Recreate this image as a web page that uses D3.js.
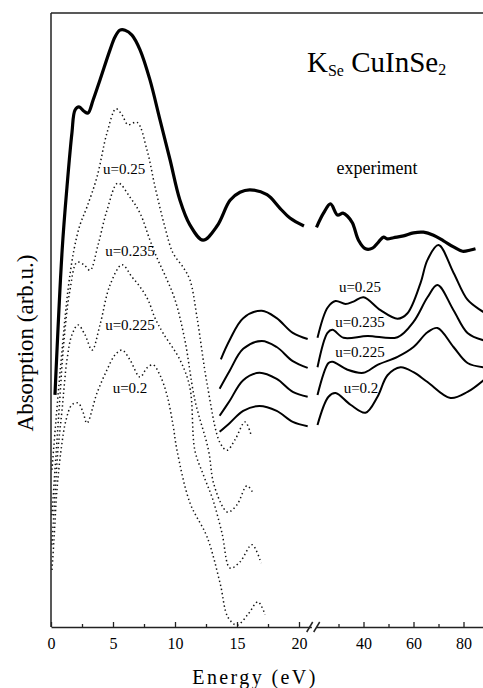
<!DOCTYPE html>
<html>
<head>
<meta charset="utf-8">
<script src="https://cdn.jsdelivr.net/npm/d3@7"></script>
<style>
    html, body { margin: 0; padding: 0; background: #fff; }
    svg text { font-family: "Liberation Serif", "DejaVu Serif", serif; fill: #000; }
</style>
</head>
<body>
<div id="chart"></div>
<script>
// energy in eV, absorption in arb. units (0..10)
const tickLow = [0, 5, 10, 15, 20],
    minorLow = [2.5, 7.5, 12.5, 17.5],
    tickHigh = [40, 60, 80],
    minorHigh = [30, 50, 70];

const uLabels = ["u=0.25", "u=0.235", "u=0.225", "u=0.2"];

// experiment, thick line
const expLow = [[0.32,3.78],[0.9,6.14],[1.29,7.17],[1.69,8.05],[1.94,8.42],[2.26,8.47],[2.66,8.40],[2.98,8.37],
    [3.39,8.58],[3.95,8.91],[4.76,9.40],[5.16,9.61],[5.56,9.72],[5.97,9.72],[6.53,9.64],[7.18,9.40],[7.98,8.91],
    [8.79,8.26],[9.6,7.61],[10.4,6.95],[11.2,6.55],[12.26,6.30],[13.39,6.53],[14.44,6.95],[15.24,7.08],
    [16.05,7.12],[17.42,7.04],[18.47,6.82],[19.27,6.66],[20.4,6.53]];
const expHigh = [[21.2,6.51],[24,6.74],[26.8,6.89],[29.6,6.71],[31.8,6.74],[33.6,6.69],[35.6,6.58],[38,6.30],
    [40.8,6.16],[43.6,6.17],[46,6.27],[48,6.35],[49.6,6.32],[52,6.34],[56,6.37],[60,6.42],[64,6.43],[68,6.38],
    [72,6.29],[76,6.19],[79.6,6.12],[82.8,6.14],[84.8,6.16]];

// calculated spectra, solid pieces (E > 13 eV)
const solidLow025 = [[13.7,4.36],[14.4,4.67],[15.5,5.03],[17.0,5.15],[18.2,5.03],[19.5,4.79],[20.7,4.69]];
const solidLow0235 = [[13.6,3.88],[14.4,4.17],[15.5,4.53],[17.0,4.66],[18.2,4.56],[19.5,4.33],[20.7,4.22]];
const solidLow0225 = [[13.6,3.44],[14.4,3.68],[15.5,4.02],[16.8,4.14],[18.2,4.04],[19.5,3.83],[20.7,3.75]];
const solidLow02 = [[13.6,3.18],[14.4,3.32],[15.5,3.52],[16.8,3.60],[18.2,3.52],[19.5,3.34],[20.7,3.27]];

const solidHigh025 = [[21.6,4.71],[25.6,5.20],[28.8,5.31],[32.8,5.26],[36,5.30],[40,5.37],[46.8,5.16],[53.6,5.02],
    [57.6,5.11],[62.8,5.60],[65.6,5.98],[70,6.22],[76,5.77],[81.6,5.33],[86.8,5.16],[88,5.13]];
const solidHigh0235 = [[21.6,4.23],[25.6,4.79],[27.6,4.84],[32,4.71],[41.6,4.74],[53.6,4.72],[60,4.97],
    [65.6,5.37],[69.6,5.57],[76,5.16],[81.6,4.79],[88,4.67]];
const solidHigh0225 = [[21.6,3.78],[26,4.30],[27.6,4.32],[33.6,4.19],[40,4.14],[45.6,4.27],[53.6,4.40],
    [60,4.56],[65.6,4.80],[69.6,4.87],[76,4.56],[81.6,4.30],[88,4.23]];
const solidHigh02 = [[21.6,3.29],[26,3.75],[28.8,3.81],[34.8,3.62],[40.8,3.49],[45.6,3.75],[49.6,4.10],
    [54.8,4.23],[60,4.15],[65.6,3.99],[74.8,3.73],[81.6,3.83],[88,4.02]];

// calculated spectra, dotted pieces (E < 17.5 eV)
const dotLow025 = [[0.08,2.56],[0.40,3.37],[0.89,4.51],[1.37,5.49],[1.85,6.14],[2.34,6.55],[2.90,6.84],
    [3.71,7.33],[4.52,8.05],[5.24,8.44],[5.73,8.34],[6.21,8.18],[6.94,8.22],[7.74,7.77],[8.39,7.17],
    [9.19,6.51],[9.84,6.09],[10.65,5.86],[11.21,5.65],[11.77,5.05],[12.58,3.97],[13.63,3.00],[14.19,2.88],
    [14.84,3.05],[15.65,3.34],[16.13,3.13]];
const dotLow0235 = [[0.08,1.82],[0.32,2.56],[0.65,3.53],[1.05,4.67],[1.53,5.49],[2.10,5.94],[2.66,5.90],
    [3.15,5.81],[3.79,6.22],[4.52,6.79],[5.40,7.23],[6.37,7.00],[7.18,6.74],[7.98,6.30],[8.55,6.01],
    [9.19,5.73],[10.0,5.33],[10.8,4.67],[11.6,3.70],[12.7,2.88],[13.1,2.35],[13.9,1.94],[14.27,1.87],
    [15.0,1.99],[15.8,2.30],[16.3,2.18]];
const dotLow0225 = [[0.08,1.34],[0.32,2.15],[0.56,2.88],[0.89,3.53],[1.29,4.35],[1.69,4.76],[2.18,4.92],
    [2.74,4.76],[3.31,4.51],[3.95,4.92],[4.76,5.57],[5.73,5.90],[6.53,5.70],[7.18,5.54],[7.82,5.33],
    [8.39,5.03],[9.03,4.79],[10.4,4.35],[11.2,3.90],[11.6,2.88],[12.3,2.47],[13.06,2.07],[13.79,1.53],
    [14.44,0.96],[15.24,1.06],[16.21,1.34],[16.94,1.04]];
const dotLow02 = [[0.08,0.93],[0.24,1.42],[0.48,2.23],[0.81,2.88],[1.21,3.37],[1.69,3.62],[2.18,3.65],
    [2.58,3.50],[2.90,3.32],[3.71,3.81],[4.52,4.19],[5.16,4.43],[5.73,4.51],[6.37,4.35],[7.18,4.07],
    [7.74,4.22],[8.23,4.27],[8.79,4.10],[9.35,3.78],[9.84,3.29],[10.16,2.88],[11.21,2.02],[12.58,1.47],
    [13.63,0.72],[14.27,0.16],[15.0,0.03],[15.9,0.21],[16.69,0.41],[17.26,0.20]];

// label anchors [E, absorption]
const labelLowPos = [[5.89,7.46],[6.37,6.12],[6.37,4.93],[6.37,3.89]];
const labelHighPos = [[38.6,5.54],[38.6,4.97],[38.6,4.48],[39.0,3.89]];

const width = 483, height = 688;

const svg = d3.select("#chart").append("svg")
    .attr("width", width)
    .attr("height", height)
    .attr("viewBox", `0 0 ${width} ${height}`);

const plotTop = 13, plotBottom = 627, plotLeft = 51;

const xLow = d3.scaleLinear().domain([0, 21]).range([plotLeft, 311.4]),
    xHigh = d3.scaleLinear().domain([21, 88]).range([316, 483.5]),
    y = d3.scaleLinear().domain([0, 10]).range([plotBottom, plotTop]);

const lineLow = d3.line().x(d => xLow(d[0])).y(d => y(d[1])).curve(d3.curveCatmullRom.alpha(0.5)),
    lineHigh = d3.line().x(d => xHigh(d[0])).y(d => y(d[1])).curve(d3.curveCatmullRom.alpha(0.5));

// frame: top and left lines
svg.append("line")
    .attr("x1", plotLeft).attr("x2", width)
    .attr("y1", plotTop).attr("y2", plotTop)
    .attr("stroke", "#222").attr("stroke-width", 1.5);
svg.append("line")
    .attr("x1", plotLeft).attr("x2", plotLeft)
    .attr("y1", plotTop).attr("y2", plotBottom)
    .attr("stroke", "#222").attr("stroke-width", 1.5);

// x axes, ticks pointing inward
function styleAxis(g) {
    g.select(".domain").attr("stroke", "#222").attr("stroke-width", 1.5);
    g.selectAll(".tick line").attr("stroke", "#222").attr("stroke-width", 1.3);
    g.selectAll(".tick text")
        .style("font-family", "Liberation Serif")
        .style("font-size", "16px")
        .attr("fill", "#000");
}

svg.append("g")
    .attr("transform", `translate(0,${plotBottom})`)
    .call(d3.axisBottom(xLow).tickValues(tickLow).tickSizeInner(-5).tickSizeOuter(0).tickPadding(11))
    .call(styleAxis);
svg.append("g")
    .attr("transform", `translate(0,${plotBottom})`)
    .call(d3.axisBottom(xLow).tickValues(minorLow).tickSizeInner(-3).tickSizeOuter(0).tickFormat(""))
    .call(g => g.select(".domain").remove())
    .call(styleAxis);

svg.append("g")
    .attr("transform", `translate(0,${plotBottom})`)
    .call(d3.axisBottom(xHigh).tickValues(tickHigh).tickSizeInner(-5).tickSizeOuter(0).tickPadding(11))
    .call(styleAxis);
svg.append("g")
    .attr("transform", `translate(0,${plotBottom})`)
    .call(d3.axisBottom(xHigh).tickValues(minorHigh).tickSizeInner(-3).tickSizeOuter(0).tickFormat(""))
    .call(g => g.select(".domain").remove())
    .call(styleAxis);

// axis break marks
const breakX = (xLow.range()[1] + xHigh.range()[0]) / 2;
[-4, 3].forEach(off => {
    svg.append("line")
        .attr("x1", breakX + off - 3).attr("y1", plotBottom + 5)
        .attr("x2", breakX + off + 3).attr("y2", plotBottom - 5)
        .attr("stroke", "#222").attr("stroke-width", 1.5);
});

// dotted calculated curves
[dotLow025, dotLow0235, dotLow0225, dotLow02].forEach(series => {
    svg.append("path")
        .attr("d", lineLow(series))
        .attr("fill", "none")
        .attr("stroke", "#111")
        .attr("stroke-width", 1.5)
        .attr("stroke-dasharray", "1.4,2.8");
});

// solid calculated curves
[solidLow025, solidLow0235, solidLow0225, solidLow02].forEach(series => {
    svg.append("path")
        .attr("d", lineLow(series))
        .attr("fill", "none")
        .attr("stroke", "#000")
        .attr("stroke-width", 2);
});
[solidHigh025, solidHigh0235, solidHigh0225, solidHigh02].forEach(series => {
    svg.append("path")
        .attr("d", lineHigh(series))
        .attr("fill", "none")
        .attr("stroke", "#000")
        .attr("stroke-width", 2);
});

// experiment
svg.append("path")
    .attr("d", lineLow(expLow))
    .attr("fill", "none")
    .attr("stroke", "#000")
    .attr("stroke-width", 3.2)
    .attr("stroke-linejoin", "round");
svg.append("path")
    .attr("d", lineHigh(expHigh))
    .attr("fill", "none")
    .attr("stroke", "#000")
    .attr("stroke-width", 3.2)
    .attr("stroke-linejoin", "round");

// curve labels
uLabels.forEach((label, i) => {
    svg.append("text")
        .attr("x", xLow(labelLowPos[i][0]))
        .attr("y", y(labelLowPos[i][1]))
        .attr("dy", "0.35em")
        .style("text-anchor", "middle")
        .style("font-size", "15px")
        .text(label);
    svg.append("text")
        .attr("x", xHigh(labelHighPos[i][0]))
        .attr("y", y(labelHighPos[i][1]))
        .attr("dy", "0.35em")
        .style("text-anchor", "middle")
        .style("font-size", "15px")
        .text(label);
});

svg.append("text")
    .attr("x", xHigh(45.4))
    .attr("y", y(7.48))
    .attr("dy", "0.35em")
    .style("text-anchor", "middle")
    .style("font-size", "18px")
    .text("experiment");

// title K_Se CuInSe_2
const title = svg.append("text")
    .attr("x", 307)
    .attr("y", 72)
    .style("font-size", "29px");
title.append("tspan").text("K");
title.append("tspan").attr("dy", 4).style("font-size", "16px").text("Se");
title.append("tspan").attr("dy", -4).text(" CuInSe");
title.append("tspan").attr("dy", 3).style("font-size", "16px").text("2");

// axis titles
svg.append("text")
    .attr("x", 255)
    .attr("y", 684)
    .style("text-anchor", "middle")
    .style("font-size", "20px")
    .style("letter-spacing", "2.4px")
    .text("Energy  (eV)");

svg.append("text")
    .attr("transform", "translate(33,343) rotate(-90)")
    .style("text-anchor", "middle")
    .style("font-size", "23px")
    .text("Absorption  (arb.u.)");
</script>
</body>
</html>
